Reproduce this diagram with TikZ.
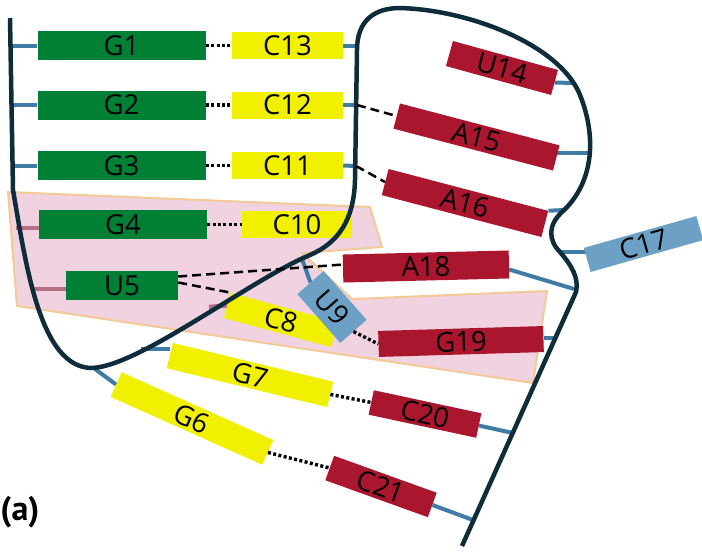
\documentclass[tikz,border=0pt]{standalone}
\usepackage{fontspec}
\setmainfont{PT Sans}
\newfontfamily\boxfont{Open Sans}
\definecolor{cbb}{RGB}{14,44,58}
\definecolor{cgreen}{RGB}{0,128,52}
\definecolor{cyellow}{RGB}{240,240,0}
\definecolor{cred}{RGB}{170,22,46}
\definecolor{cblue}{RGB}{108,160,196}
\definecolor{cstub}{RGB}{62,124,166}
\definecolor{cmauve}{RGB}{184,112,132}
\definecolor{cpink}{RGB}{240,210,224}
\definecolor{cpeach}{RGB}{242,202,150}
\pgfdeclarelayer{bg}
\pgfdeclarelayer{mid}
\pgfsetlayers{bg,mid,main}
\begin{document}
\begin{tikzpicture}[x=1pt,y=-1pt,
  box/.style={inner sep=0pt,minimum height=26pt,font=\boxfont\fontsize{27.5}{27.5}\selectfont,text=black},
  gbox/.style={box,fill=cgreen},
  ybox/.style={box,fill=cyellow},
  rbox/.style={box,fill=cred},
  lbbox/.style={box,fill=cblue},
  stub/.style={draw=cstub,line width=4pt},
  mstub/.style={draw=cmauve,line width=4.5pt},
  backbone/.style={draw=cbb,line width=4.5pt,line join=round},
  pairdot/.style={draw=black,line width=3.4pt,dash pattern=on 3pt off 2.4pt},
  pairdash/.style={draw=black,line width=2.5pt,dash pattern=on 9pt off 5pt},
  region/.style={fill=cpink,draw=cpeach,line width=2pt,line join=round}
]
\useasboundingbox (0,0) rectangle (702,552);

% ---------- boxes ----------
\node[gbox,minimum width=168,minimum height=29] (G1) at (121.5,45.5) {G1};
\node[gbox,minimum width=168,minimum height=29] (G2) at (121.5,105) {G2};
\node[gbox,minimum width=168,minimum height=29] (G3) at (121.5,165.5) {G3};
\node[gbox,minimum width=168,minimum height=29] (G4) at (123,224.5) {G4};
\node[gbox,minimum width=112,minimum height=29] (U5) at (122,285.5) {U5};

\node[ybox,minimum width=111,minimum height=27] (C13) at (287.5,45.5) {C13};
\node[ybox,minimum width=111,minimum height=27] (C12) at (287.5,105) {C12};
\node[ybox,minimum width=111,minimum height=27] (C11) at (287.5,165.5) {C11};
\node[ybox,minimum width=110,minimum height=27] (C10) at (297,224.5) {C10};
\node[ybox,minimum width=111,minimum height=26,rotate=-15.2] (C8) at (281,320) {C8};
\node[ybox,minimum width=165,minimum height=26,rotate=-13.6] (G7) at (250,375) {G7};
\node[ybox,minimum width=166,minimum height=27,rotate=-24.1] (G6) at (192,418.5) {G6};

\node[rbox,minimum width=109,minimum height=26,rotate=-15.4] (U14) at (502,68) {U14};
\node[rbox,minimum width=165,minimum height=26,rotate=-14.7] (A15) at (476.5,137) {A15};
\node[rbox,minimum width=165,minimum height=27,rotate=-14.7] (A16) at (465,203) {A16};
\node[rbox,minimum width=166,minimum height=28,rotate=1.4] (A18) at (426,266.5) {A18};
\node[rbox,minimum width=165,minimum height=26,rotate=1.7] (G19) at (461,341.5) {G19};
\node[rbox,minimum width=110,minimum height=25,rotate=-12.1] (C20) at (425,414) {C20};
\node[rbox,minimum width=109,minimum height=26,rotate=-19.8] (C21) at (381,486.5) {C21};

\node[lbbox,minimum width=117,minimum height=25,rotate=15.8] (C17) at (643.5,244) {C17};
\node[lbbox,minimum width=65,minimum height=35,rotate=-48.7] (U9) at (332,307) {U9};

\node[font=\fontsize{34}{34}\selectfont\bfseries,inner sep=0pt] (lab) at (20,512) {(a)};

% ---------- highlighted region ----------
\begin{pgfonlayer}{bg}
\path[region] (8,192) -- (370,207) -- (382,247) -- (302,253) -- (352,299)
  -- (547,291) -- (533,383) -- (17,306) -- cycle;
\end{pgfonlayer}

% ---------- backbone attachment points ----------
\coordinate (bG1) at (11,45.5);
\coordinate (bG2) at (12,105);
\coordinate (bG3) at (13,165.5);
\coordinate (bG4) at (16,228);
\coordinate (bU5) at (32,289);
\coordinate (bC8) at (209,307);
\coordinate (bC13) at (357,45.5);
\coordinate (bC12) at (357,105);
\coordinate (bC11) at (356,166);
\coordinate (bU14) at (574,83);
\coordinate (bA15) at (589,153);
\coordinate (bA16) at (564,210);
\coordinate (bC17) at (561,252);
\coordinate (bA18) at (574,289);
\coordinate (bG19) at (556,338);
\coordinate (bC20) at (513,433);
\coordinate (bC21) at (473,520);
\coordinate (bG7) at (141,349);
\coordinate (bG6) at (95,369);
\coordinate (bU9) at (302,259);

\begin{pgfonlayer}{mid}
\draw[stub] (bG1) -- (G1.west);
\draw[stub] (bG2) -- (G2.west);
\draw[stub] (bG3) -- (G3.west);
\draw[mstub] (bG4) -- (bG4 -| G4.west);
\draw[mstub] (bU5) -- (bU5 -| U5.west);
\draw[mstub] (bC8) -- (C8.west);
\draw[stub] (C13.east) -- (bC13);
\draw[stub] (C12.east) -- (bC12);
\draw[stub] (C11.east) -- (bC11);
\draw[stub] (U14.east) -- (bU14);
\draw[stub] (bA15 -| A15.east) -- (bA15);
\draw[stub] (A16.north east) -- (bA16);
\draw[stub] (bC17) -- (bC17 -| C17.west);
\draw[stub] ([yshift=-5pt]A18.east) -- (bA18);
\draw[stub] (bG19 -| G19.east) -- (bG19);
\draw[stub] (C20.east) -- (bC20);
\draw[stub] (C21.east) -- (bC21);
\draw[stub] (bG7) -- (bG7 -| G7.west);
\draw[stub] (bG6) -- (G6.west);
\draw[stub] (bU9) -- (U9.west);
\end{pgfonlayer}

% ---------- backbone ----------
\draw[backbone] (10,18) -- (13,190)
  .. controls (26,265) and (40,368) .. (92,368)
  .. controls (140,366) and (250,280) .. (310,255)
  .. controls (338,243) and (354,220) .. (355,180)
  -- (357,50)
  .. controls (357,20) and (375,8) .. (400,8)
  .. controls (470,10) and (560,45) .. (580,95)
  .. controls (598,140) and (592,185) .. (562,212)
  .. controls (548,225) and (548,240) .. (560,252)
  .. controls (572,266) and (579,278) .. (576,292)
  -- (462,546);

% ---------- pairing connectors ----------
\draw[pairdot] (G1.east) -- (C13.west);
\draw[pairdot] (G2.east) -- (C12.west);
\draw[pairdot] (G3.east) -- (C11.west);
\draw[pairdot] (G4.east) -- (C10.west);
\draw[pairdot] (G7.east) -- (C20.west);
\draw[pairdot] (G6.east) -- (C21.west);
\draw[pairdot] (U9.east) -- (G19.west);
\draw[pairdash] (bC12) -- (A15.west);
\draw[pairdash] (bC11) -- (A16.west);
\draw[pairdash] ([yshift=9pt]U5.east) -- ([yshift=4pt]A18.west);
\draw[pairdash] ([yshift=3pt]U5.east) -- (C8.north west);
\end{tikzpicture}
\end{document}
